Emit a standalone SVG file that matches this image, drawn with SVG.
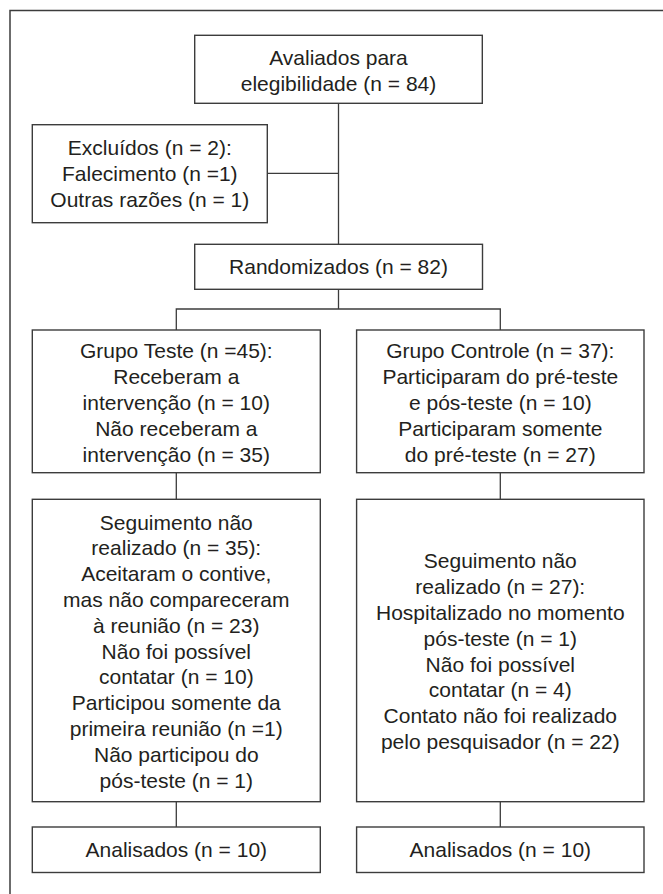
<svg xmlns="http://www.w3.org/2000/svg" width="663" height="894" viewBox="0 0 663 894">
<style>
.box{fill:#ffffff;stroke:#3c3c3c;stroke-width:1.4}
.ln{fill:none;stroke:#3c3c3c;stroke-width:1.3}
.frame{fill:none;stroke:#3c3c3c;stroke-width:1.5}
text{font-family:"Liberation Sans",Arial,Helvetica,sans-serif;font-size:21px;fill:#231f20;text-anchor:middle}
</style>
<rect x="0" y="0" width="663" height="894" fill="#ffffff"/>
<path class="frame" d="M10,894 V10.5 H663"/>
<g id="connectors">
<path class="ln" d="M338.5,103 V244.3"/>
<path class="ln" d="M267.3,173.3 H338.5"/>
<path class="ln" d="M338.5,289.3 V309 M176.3,330 V309 H500.3 V330"/>
<path class="ln" d="M176.3,472.7 V499.3 M500.3,472.7 V499.3"/>
<path class="ln" d="M176.3,801.7 V827 M500.3,801.7 V827"/>
</g>
<g id="n_avaliados">
<rect class="box" x="194.7" y="35.3" width="287.6" height="68"/>
<text x="338.5" y="65.2">Avaliados para</text>
<text x="338.5" y="91">elegibilidade (n = 84)</text>
</g>
<g id="n_excluidos">
<rect class="box" x="32.3" y="124.7" width="235" height="98"/>
<text x="149.8" y="155.2">Excluídos (n = 2):</text>
<text x="149.8" y="181">Falecimento (n =1)</text>
<text x="149.8" y="206.8">Outras razões (n = 1)</text>
</g>
<g id="n_randomizados">
<rect class="box" x="194.7" y="244.3" width="287.8" height="45"/>
<text x="338.5" y="274.3">Randomizados (n = 82)</text>
</g>
<g id="n_grupo_teste">
<rect class="box" x="32.3" y="330" width="288" height="142.7"/>
<text x="176.3" y="358.3">Grupo Teste (n =45):</text>
<text x="176.3" y="384.1">Receberam a</text>
<text x="176.3" y="409.9">intervenção (n = 10)</text>
<text x="176.3" y="435.7">Não receberam a</text>
<text x="176.3" y="461.5">intervenção (n = 35)</text>
</g>
<g id="n_grupo_controle">
<rect class="box" x="356.6" y="330" width="287.4" height="142.7"/>
<text x="500.3" y="358.3">Grupo Controle (n = 37):</text>
<text x="500.3" y="384.1">Participaram do pré-teste</text>
<text x="500.3" y="409.9">e pós-teste (n = 10)</text>
<text x="500.3" y="435.7">Participaram somente</text>
<text x="500.3" y="461.5">do pré-teste (n = 27)</text>
</g>
<g id="n_seguimento_teste">
<rect class="box" x="32.3" y="499.3" width="288" height="302.4"/>
<text x="176.3" y="529.5">Seguimento não</text>
<text x="176.3" y="555.3">realizado (n = 35):</text>
<text x="176.3" y="581.1">Aceitaram o contive,</text>
<text x="176.3" y="606.9">mas não compareceram</text>
<text x="176.3" y="632.7">à reunião (n = 23)</text>
<text x="176.3" y="658.5">Não foi possível</text>
<text x="176.3" y="684.3">contatar (n = 10)</text>
<text x="176.3" y="710.1">Participou somente da</text>
<text x="176.3" y="735.9">primeira reunião (n =1)</text>
<text x="176.3" y="761.7">Não participou do</text>
<text x="176.3" y="787.5">pós-teste (n = 1)</text>
</g>
<g id="n_seguimento_controle">
<rect class="box" x="356.6" y="499.3" width="287.4" height="302.4"/>
<text x="500.3" y="568.3">Seguimento não</text>
<text x="500.3" y="594.1">realizado (n = 27):</text>
<text x="500.3" y="619.9">Hospitalizado no momento</text>
<text x="500.3" y="645.7">pós-teste (n = 1)</text>
<text x="500.3" y="671.5">Não foi possível</text>
<text x="500.3" y="697.3">contatar (n = 4)</text>
<text x="500.3" y="723.1">Contato não foi realizado</text>
<text x="500.3" y="748.9">pelo pesquisador (n = 22)</text>
</g>
<g id="n_analisados_teste">
<rect class="box" x="32.3" y="827" width="288" height="45.5"/>
<text x="176.3" y="857">Analisados (n = 10)</text>
</g>
<g id="n_analisados_controle">
<rect class="box" x="356.6" y="827" width="287.4" height="45.5"/>
<text x="500.3" y="857">Analisados (n = 10)</text>
</g>
</svg>
